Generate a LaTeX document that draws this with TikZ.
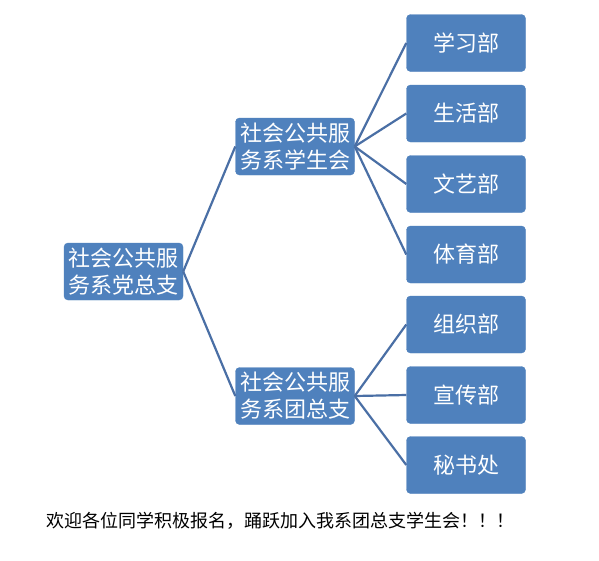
\documentclass[tikz,border=0pt]{standalone}
\usepackage{fontspec}
\newfontfamily\cjk{Noto Sans CJK SC}
\definecolor{boxblue}{HTML}{4F81BD}
\definecolor{lineblue}{HTML}{4A6FA5}
\tikzset{
  orgbox/.style={rectangle, rounded corners=4pt, fill=boxblue, draw=boxblue,
    text=white, font=\cjk\fontsize{22}{27}\selectfont, align=center,
    minimum width=119pt, minimum height=57pt, inner sep=0pt},
  link/.style={draw=lineblue, line width=2.2pt}
}
\begin{document}
\begin{tikzpicture}[x=1pt,y=-1pt]
    \useasboundingbox[fill=white] (0,0) rectangle (599,560);

    % Raiz
    \node[orgbox] (zhibu) at (123.5,271.5) {社会公共服\\务系党总支};

    % Nivel medio
    \node[orgbox] (xsh) at (295,146.5) {社会公共服\\务系学生会};
    \node[orgbox] (tzz) at (295,396) {社会公共服\\务系团总支};

    % Departamentos
    \node[orgbox] (xuexi) at (466,43) {学习部};
    \node[orgbox] (shenghuo) at (466,113.5) {生活部};
    \node[orgbox] (wenyi) at (466,184) {文艺部};
    \node[orgbox] (tiyu) at (466,254.5) {体育部};
    \node[orgbox] (zuzhi) at (466,324.5) {组织部};
    \node[orgbox] (xuanchuan) at (466,395) {宣传部};
    \node[orgbox] (mishu) at (466,465) {秘书处};

    % Conexiones
    \draw[link] (zhibu.east) -- (xsh.west);
    \draw[link] (zhibu.east) -- (tzz.west);
    \draw[link] (xsh.east) -- (xuexi.west);
    \draw[link] (xsh.east) -- (shenghuo.west);
    \draw[link] (xsh.east) -- (wenyi.west);
    \draw[link] (xsh.east) -- (tiyu.west);
    \draw[link] (tzz.east) -- (zuzhi.west);
    \draw[link] (tzz.east) -- (xuanchuan.west);
    \draw[link] (tzz.east) -- (mishu.west);

    % Texto inferior
    \node[anchor=west, inner sep=0pt, font=\cjk\fontsize{18}{20}\selectfont] (invite) at (46,521)
      {欢迎各位同学积极报名，踊跃加入我系团总支学生会！！！};
\end{tikzpicture}
\end{document}
